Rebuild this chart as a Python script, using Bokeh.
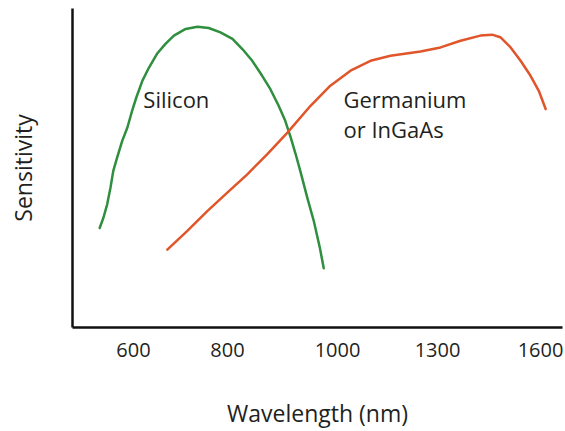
import numpy as np
from bokeh.plotting import figure
from bokeh.models import FixedTicker, Range1d, ColumnDataSource
from bokeh.core.properties import value
from bokeh.embed import file_html
from bokeh.resources import INLINE

# Tick labels of the (schematic, non-uniform) wavelength axis
tick_nm = [600, 800, 1000, 1300, 1600]
tick_labels = ["600", "800", "1000", "1300", "1600"]
# axis positions of those ticks (layout of the schematic axis)
tick_pos = [0.0, 0.94, 2.04, 3.04, 4.07]

# Silicon sensitivity curve (wavelength nm, relative sensitivity)
si_nm = [528, 536, 544, 551, 557, 565, 576, 587, 597, 606, 619, 633, 650, 668, 686,
         711, 736, 760, 785, 809, 827, 845, 863, 878, 893, 905, 915, 924, 934, 945,
         957, 968, 975]
si_sens = [31.2, 34.4, 38.6, 43.8, 49.1, 53.2, 58.5, 62.7, 67.9, 72.1, 77.4, 81.5, 85.8, 88.9, 91.5,
           93.6, 94.3, 93.9, 92.5, 90.5, 87.3, 83.6, 78.9, 74.7, 69.5, 64.8, 59.5, 54.3, 48.0, 40.7,
           33.3, 24.9, 18.6]

# Germanium / InGaAs sensitivity curve
ge_nm = [672, 714, 757, 799, 836, 872, 909, 951, 987, 1039, 1099, 1159, 1249, 1309,
         1367, 1425, 1459, 1483, 1513, 1542, 1571, 1595, 1615]
ge_sens = [24.4, 30.2, 36.5, 42.2, 48.0, 54.3, 61.1, 69.5, 75.8, 80.5, 83.6, 85.2, 86.5, 87.8,
           89.9, 91.5, 91.8, 91.0, 87.8, 83.6, 78.9, 74.2, 68.5]

labels_text = ["Silicon", "Germanium", "or InGaAs"]
labels_nm = [621, 1018, 1018]
labels_sens = [71.7, 71.7, 62.3]


def to_axis(nm):
    """Piecewise-linear map from wavelength to the schematic axis, with extrapolation."""
    nm = np.asarray(nm, dtype=float)
    tn = np.asarray(tick_nm, dtype=float)
    tp = np.asarray(tick_pos, dtype=float)
    out = np.interp(nm, tn, tp)
    lo = nm < tn[0]
    out[lo] = tp[0] + (nm[lo] - tn[0]) * (tp[1] - tp[0]) / (tn[1] - tn[0])
    hi = nm > tn[-1]
    out[hi] = tp[-1] + (nm[hi] - tn[-1]) * (tp[-1] - tp[-2]) / (tn[-1] - tn[-2])
    return out


FONT = "Open Sans"
TXT = "#231f20"
GREEN = "#2f8f3f"
ORANGE = "#e0552a"

p = figure(width=565, height=431, output_backend="svg", toolbar_location=None,
           x_range=Range1d(-0.61, 4.29), y_range=Range1d(0, 100),
           min_border_left=72, min_border_top=8, min_border_right=3, min_border_bottom=0)
p.outline_line_color = None
p.grid.visible = False
p.background_fill_color = "white"
p.border_fill_color = "white"

# x axis
p.xaxis.ticker = FixedTicker(ticks=tick_pos)
p.xaxis.major_label_overrides = {tp: lab for tp, lab in zip(tick_pos, tick_labels)}
p.xaxis.major_tick_line_color = None
p.xaxis.minor_tick_line_color = None
p.xaxis.axis_line_width = 2.5
p.xaxis.axis_line_color = "#111111"
p.xaxis.major_label_text_font = FONT
p.xaxis.major_label_text_font_size = "20px"
p.xaxis.major_label_text_color = TXT
p.xaxis.major_label_standoff = 9
p.xaxis.axis_label = "Wavelength (nm)"
p.xaxis.axis_label_text_font = FONT
p.xaxis.axis_label_text_font_size = "23px"
p.xaxis.axis_label_text_font_style = "normal"
p.xaxis.axis_label_text_color = TXT
p.xaxis.axis_label_standoff = 37

# y axis
p.yaxis.major_tick_line_color = None
p.yaxis.minor_tick_line_color = None
p.yaxis.major_label_text_font_size = "0px"
p.yaxis.axis_line_width = 2.5
p.yaxis.axis_line_color = "#111111"
p.yaxis.axis_label = "Sensitivity"
p.yaxis.axis_label_text_font = FONT
p.yaxis.axis_label_text_font_size = "23px"
p.yaxis.axis_label_text_font_style = "normal"
p.yaxis.axis_label_text_color = TXT
p.yaxis.axis_label_standoff = 28

p.line(to_axis(si_nm), si_sens, line_color=GREEN, line_width=2.5, line_join="round", line_cap="round")
p.line(to_axis(ge_nm), ge_sens, line_color=ORANGE, line_width=2.5, line_join="round", line_cap="round")

src = ColumnDataSource(dict(x=to_axis(labels_nm), y=labels_sens, t=labels_text))
p.text(x="x", y="y", text="t", source=src, text_font=value(FONT), text_font_size="22px",
       text_color=TXT, text_align="left", text_baseline="middle")

open("out.html", "w").write(file_html(p, INLINE))
